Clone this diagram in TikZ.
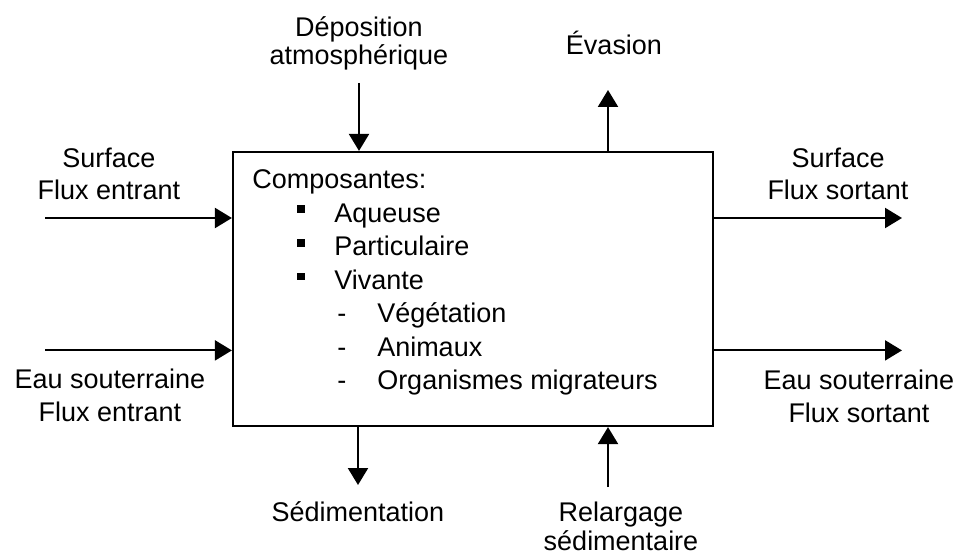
\documentclass[tikz,border=0pt]{standalone}
\usepackage{fontspec}
\setmainfont{Liberation Sans}
\usetikzlibrary{arrows.meta}
\newcommand{\puce}{\hspace*{1.125cm}\makebox[0.925cm][l]{\raisebox{0.225cm}{\rule{0.19cm}{0.19cm}}}}
\newcommand{\tiret}{\hspace*{2.125cm}\makebox[1cm][l]{-}}

\begin{document}
\begin{tikzpicture}[
    lbl/.style={align=center, anchor=base, inner sep=0pt, font=\fontsize{19.2}{22.8}\selectfont},
    serre/.style={font=\fontsize{19.2}{20.6}\selectfont},
    flux/.style={-{Triangle[length=0.425cm,width=0.5cm]}, line width=0.055cm}]
    \useasboundingbox (0,0) rectangle (24.05,-13.925);

    % Boite centrale
    \node[draw, line width=0.055cm, minimum width=12cm, minimum height=6.85cm] (milieu) at (11.825,-7.225) {};
    \node[align=left, anchor=base west, inner sep=0pt, font=\fontsize{19.2}{23.9}\selectfont] (compos) at (6.3,-9.75) {
        Composantes:\\
        \puce Aqueuse\\
        \puce Particulaire\\
        \puce Vivante\\
        \tiret V\'eg\'etation\\
        \tiret Animaux\\
        \tiret Organismes migrateurs
    };

    % Etiquettes
    \node[lbl] (lsurfin) at (2.725,-5.0) {Surface\\Flux entrant};
    \node[lbl] (leauin) at (2.75,-10.525) {Eau souterraine\\Flux entrant};
    \node[lbl] (lsurfout) at (20.95,-5.0) {Surface\\Flux sortant};
    \node[lbl] (leauout) at (21.475,-10.55) {Eau souterraine\\Flux sortant};
    \node[lbl, serre] (ldepo) at (8.975,-1.625) {D\'eposition\\atmosph\'erique};
    \node[lbl] (levas) at (15.35,-1.375) {\'Evasion};
    \node[lbl] (lsedi) at (8.95,-13.025) {S\'edimentation};
    \node[lbl, serre] (lrelarg) at (15.525,-13.75) {Relargage\\s\'edimentaire};

    % Fleches entrantes
    \coordinate (surfin) at (1.125,-5.45);
    \coordinate (eauin) at (1.125,-8.76);
    \coordinate (depo) at (8.975,-2.075);
    \coordinate (relarg) at (15.2,-12.175);
    \draw[flux] (surfin) -- (surfin -| milieu.west);
    \draw[flux] (eauin) -- (eauin -| milieu.west);
    \draw[flux] (depo) -- (depo |- milieu.north);
    \draw[flux] (relarg) -- (relarg |- milieu.south);

    % Fleches sortantes
    \coordinate (surfout) at (22.55,-5.45);
    \coordinate (eauout) at (22.55,-8.76);
    \coordinate (evas) at (15.2,-2.25);
    \coordinate (sedi) at (8.95,-12.125);
    \draw[flux] (surfout -| milieu.east) -- (surfout);
    \draw[flux] (eauout -| milieu.east) -- (eauout);
    \draw[flux] (evas |- milieu.north) -- (evas);
    \draw[flux] (sedi |- milieu.south) -- (sedi);
\end{tikzpicture}
\end{document}
